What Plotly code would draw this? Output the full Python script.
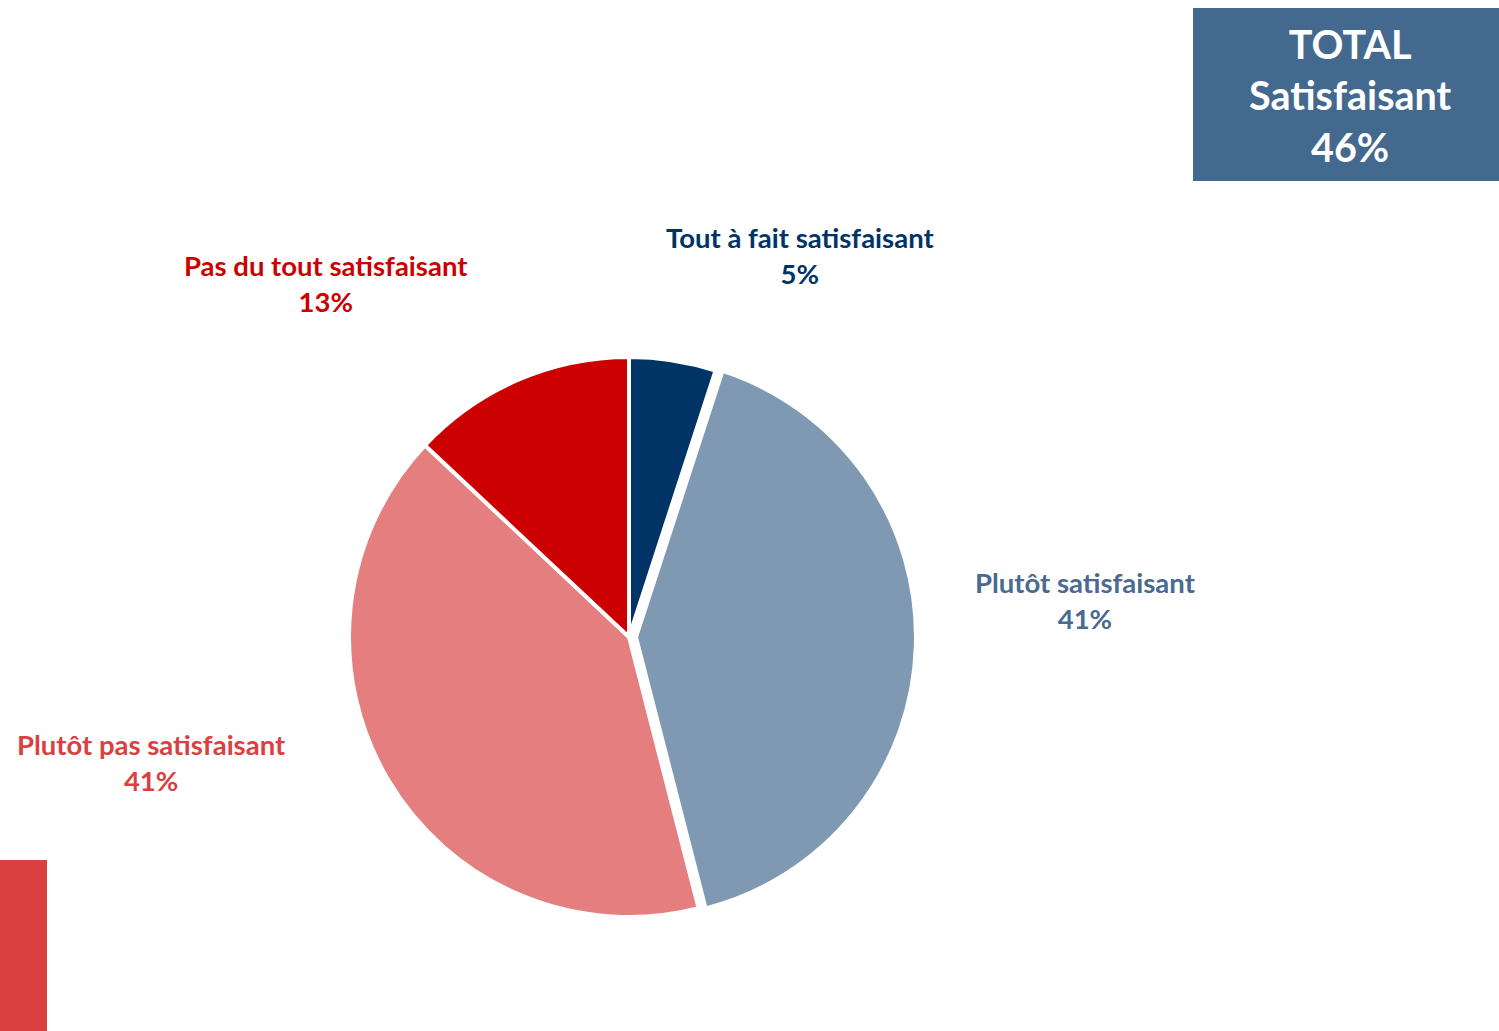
import plotly.graph_objects as go

categories = ["Tout à fait satisfaisant", "Plutôt satisfaisant", "Plutôt pas satisfaisant", "Pas du tout satisfaisant"]
values = [5, 41, 41, 13]
slice_colors = ["#003366", "#7F99B2", "#E57F7F", "#CC0000"]
label_colors = ["#003366", "#4A6A90", "#DB4040", "#CC0000"]
pulls = [0, 0.025, 0, 0]
total_label = "TOTAL<br>Satisfaisant<br>46%"

W, H = 1499, 1031
cx, cy, r = 629, 637, 287

# label anchor positions in pixel space (centre of text block)
label_pos = [(800, 256), (1085, 600), (151, 762), (326, 284)]

fig = go.Figure(go.Pie(
    labels=categories, values=values, sort=False, direction="clockwise", rotation=0,
    marker=dict(colors=slice_colors, line=dict(color="white", width=4)),
    pull=pulls, textinfo="none", hoverinfo="label+percent", showlegend=False,
    domain=dict(x=[(cx - r) / W, (cx + r) / W], y=[1 - (cy + r) / H, 1 - (cy - r) / H]),
))

font_family = "Lato, Open Sans, sans-serif"
for cat, v, col, (px, py) in zip(categories, values, label_colors, label_pos):
    fig.add_annotation(x=px / W, y=1 - py / H, xref="paper", yref="paper",
                       text=f"<b>{cat}</b><br><b>{v}%</b>", showarrow=False,
                       font=dict(family=font_family, size=27.5, color=col),
                       align="center", xanchor="center", yanchor="middle")

fig.add_shape(type="rect", xref="paper", yref="paper",
              x0=1193 / W, x1=1.0, y0=1 - 181 / H, y1=1 - 8 / H,
              fillcolor="#44698F", line=dict(width=0), layer="below")
fig.add_annotation(x=1350 / W, y=1 - 95 / H, xref="paper", yref="paper",
                   text="<b>" + total_label.replace("<br>", "</b><br><b>") + "</b>",
                   showarrow=False, font=dict(family=font_family, size=39.5, color="white"),
                   align="center", xanchor="center", yanchor="middle")

fig.add_shape(type="rect", xref="paper", yref="paper",
              x0=0, x1=47 / W, y0=0, y1=1 - 860 / H,
              fillcolor="#DB4040", line=dict(width=0), layer="below")

fig.update_layout(width=W, height=H, margin=dict(l=0, r=0, t=0, b=0),
                  paper_bgcolor="white", plot_bgcolor="white")
fig.write_html("out.html", config={"displayModeBar": False},
               post_script="document.body.style.margin='0';document.body.style.overflow='hidden';")
